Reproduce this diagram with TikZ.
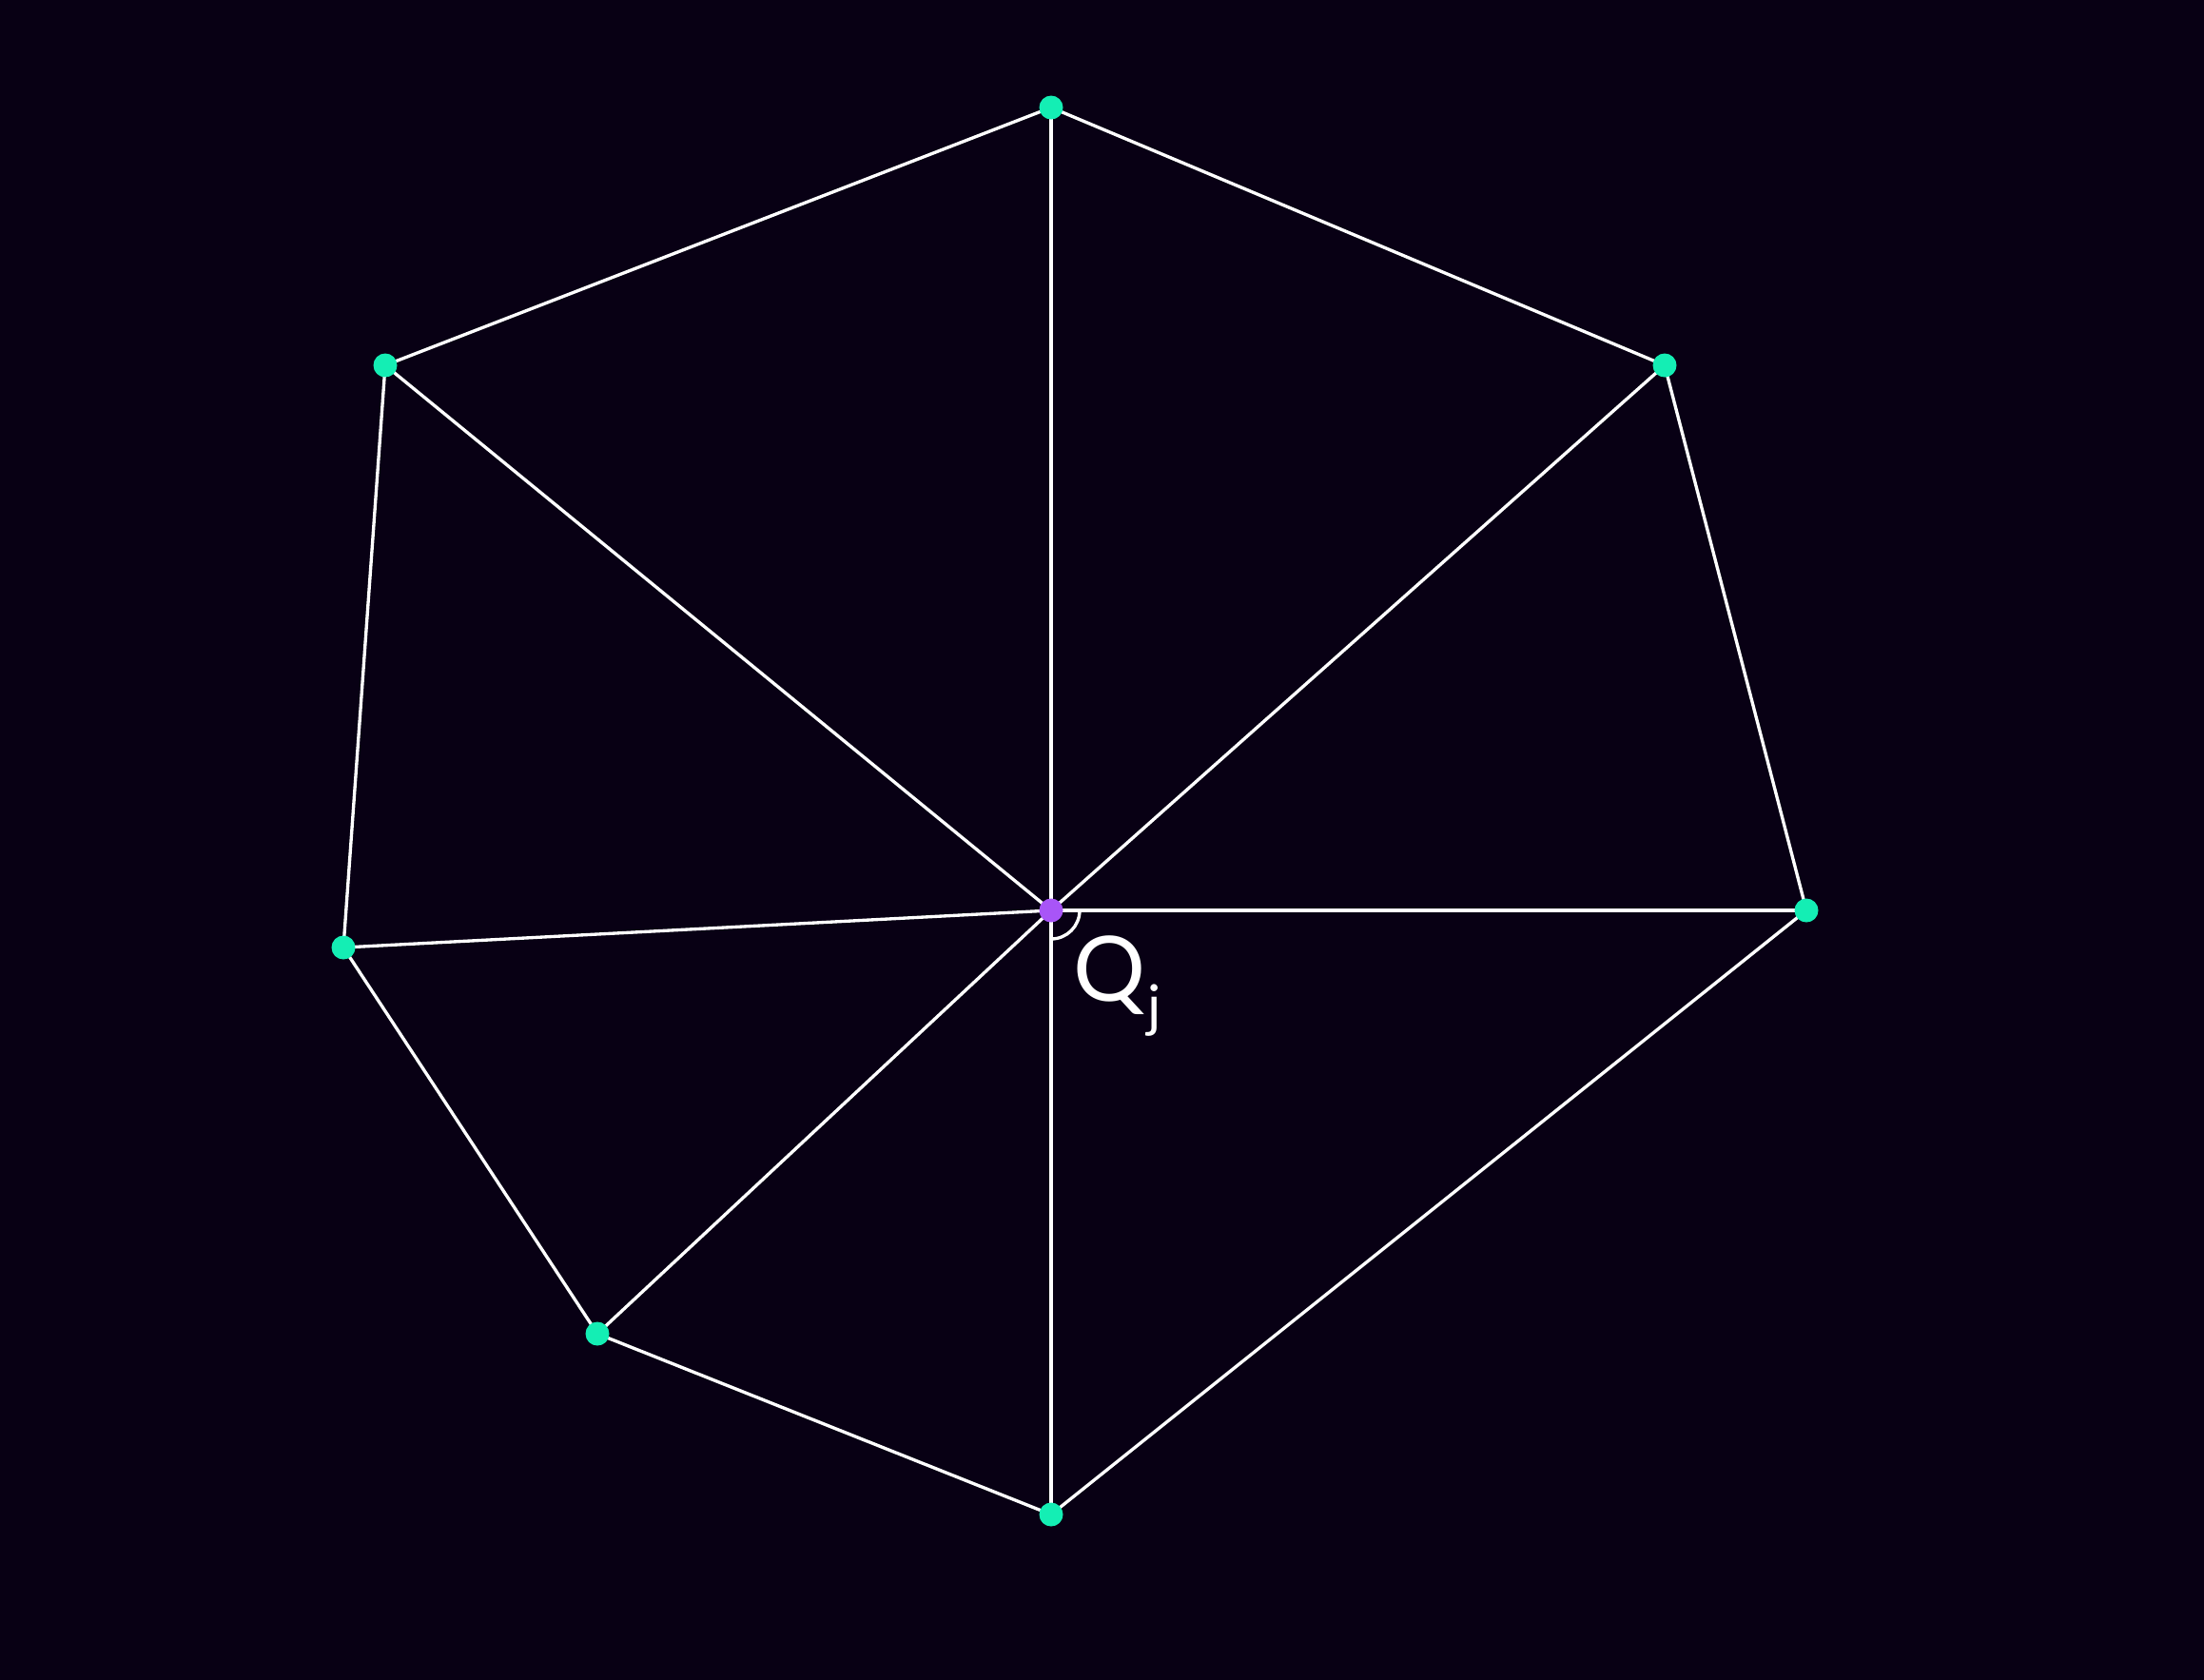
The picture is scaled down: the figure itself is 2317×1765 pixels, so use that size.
\documentclass[tikz,border=0pt]{standalone}
\usepackage{fontspec}
\setmainfont{Lato}
\definecolor{bgdark}{HTML}{080014}
\definecolor{vertgreen}{HTML}{14EEB4}
\definecolor{hubviolet}{HTML}{A855F7}

\begin{document}
\begin{tikzpicture}[x=0.01cm,y=0.01cm,line cap=round,line join=round]
\tikzset{edge/.style={white,line width=0.95pt}}
\useasboundingbox (0,0) rectangle (2317,-1765);
\fill[bgdark] (-10,10) rectangle (2327,-1775);
\coordinate (Q) at (1105,-957);
\coordinate (v1) at (1105,-113);
\coordinate (v2) at (1750,-384);
\coordinate (v3) at (1899,-957);
\coordinate (v4) at (1105,-1592);
\coordinate (v5) at (628,-1402);
\coordinate (v6) at (361,-996);
\coordinate (v7) at (405,-384);
\draw[edge] (v1) -- (v2) -- (v3) -- (v4) -- (v5) -- (v6) -- (v7) -- cycle;
\foreach \v in {v1,v2,v3,v4,v5,v6,v7}
  \draw[edge] (Q) -- (\v);
\draw[edge] (Q) ++(30,0) arc (0:-90:30);
\foreach \v in {v1,v2,v3,v4,v5,v6,v7}
  \fill[vertgreen] (\v) circle (12.5);
\fill[hubviolet] (Q) circle (12.5);
\node[anchor=base west,inner sep=0pt,text=white,font=\fontsize{27}{30}\selectfont] (Qlabel) at (1128,-1052) {Q\kern0.5pt\raisebox{-0.55ex}{\fontsize{17}{18}\selectfont j}};
\end{tikzpicture}
\end{document}
